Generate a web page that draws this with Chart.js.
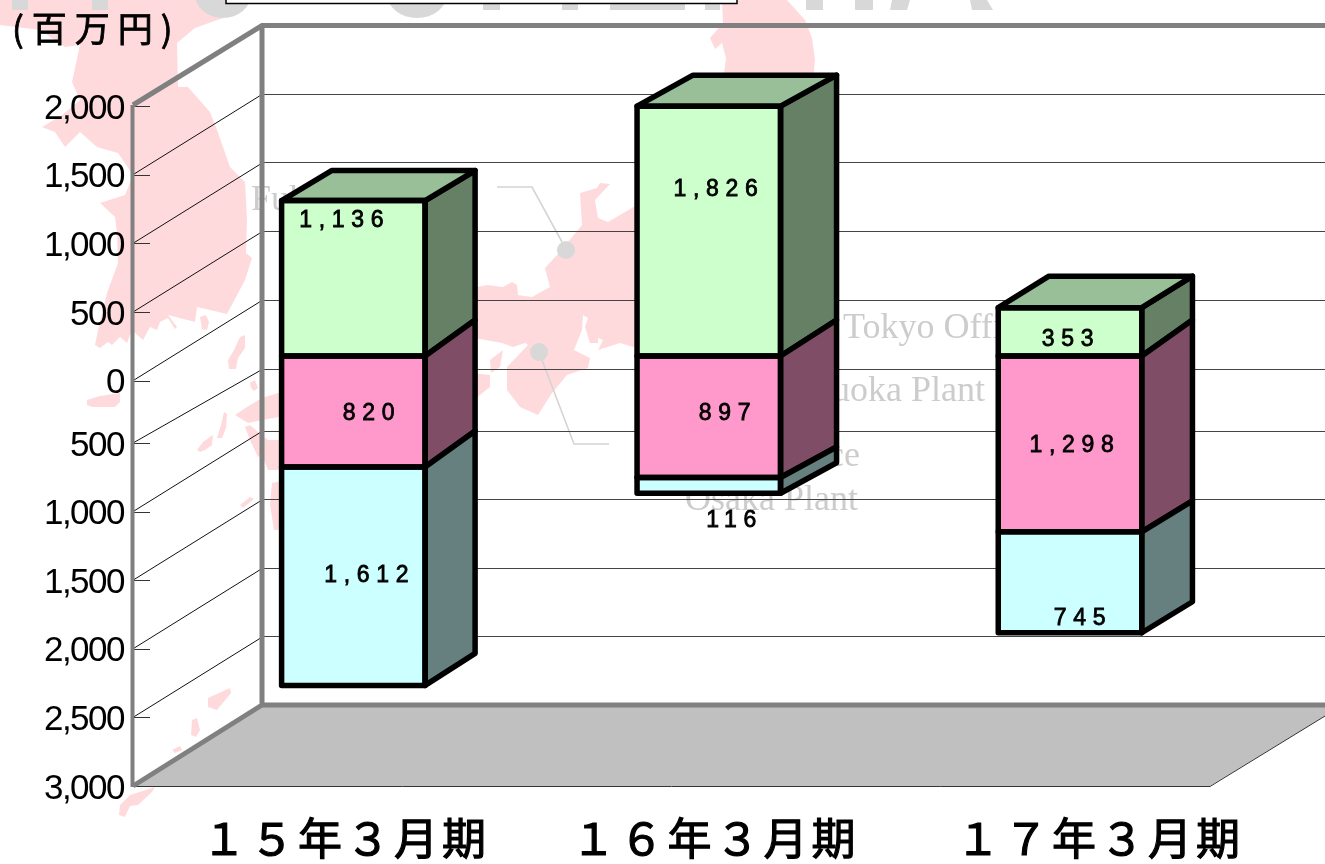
<!DOCTYPE html>
<html lang="ja">
<head>
<meta charset="utf-8">
<title>Chart</title>
<style>
html,body{margin:0;padding:0;background:#fff;overflow:hidden}
#wrap{position:relative;width:1325px;height:864px;overflow:hidden}
#bg,#c{position:absolute;left:0;top:0}
#bg{will-change:transform}
</style>
</head>
<body>
<div id="wrap">
<svg id="bg" width="1325" height="864" viewBox="0 0 1325 864">
  <g fill="#FFDADD">
    <polygon points="0,0 233,0 223,18 195,28 177,43 178,87 188,87 210,112 217,130 230,167 245,182 247,220 246,253 252,258 245,280 227,314 197,307 195,322 168,315 177,327 175,329 168,318 160,322 157,330 150,327 143,340 132,330 127,343 120,337 112,345 108,342 100,348 95,345 98,330 107,293 118,263 117,233 115,217 100,203 125,195 133,175 118,153 97,147 80,132 65,147 55,132 42,127 62,115 80,100 72,82 80,45 65,47 40,30 0,25"/>
    <polygon points="200,317 206,315 209,322 207,330 202,329"/>
    <polygon points="240,337 245,335 245,348 238,358 236,369 229,369 228,360 234,350"/>
    <polygon points="87,400 100,396 120,393 120,402 115,407 92,407 87,405"/>
    <polygon points="250,383 255,380 258,388 254,391 251,388"/>
    <polygon points="197,450 203,442 213,435 212,445 205,450 200,452"/>
    <polygon points="217,438 221,425 224,412 227,414 226,428 222,438"/>
    <polygon points="235,415 247,407 262,398 278,393 285,393 285,416 262,420 248,423"/>
    <polygon points="245,427 250,425 258,432 268,440 285,440 285,470 268,470 262,455 258,457 250,440"/>
    <polygon points="272,483 285,480 285,530 274,530 270,505"/>
    <polygon points="240,505 250,497 254,499 243,508"/>
    <polygon points="208,698 230,688 231,693 217,710 208,707"/>
    <polygon points="192,720 197,718 200,730 196,737 191,735"/>
    <polygon points="172,750 180,746 182,750 175,753"/>
    <polygon points="120,805 130,795 155,787 152,792 138,805 130,806 125,817 119,815"/>
    <polygon points="477,287 487,285 503,287 512,282 517,285 518,295 532,297 550,287 545,268 557,255 582,225 580,193 597,188 600,183 610,184 595,200 598,218 608,222 637,205 724,150 724,73 726,58 722,43 715,49 710,38 723,23 722,0 787,0 805,20 812,38 815,60 813,80 790,300 633,347 620,343 598,350 603,340 598,338 598,343 590,343 585,327 588,318 583,315 582,330 574,350 590,358 588,368 567,375 552,393 538,415 520,407 507,390 507,367 528,345 525,343 513,347 502,343 480,339 470,339 470,287"/>
    <polygon points="503,350 500,367 491,373 490,360"/>
    <polygon points="470,373 490,375 490,387 470,403"/>
  </g>
  <g fill="#D8D8D8">
    <rect x="12" y="-2" width="16" height="12"/>
    <rect x="92" y="-2" width="16" height="12"/>
    <ellipse cx="223" cy="-6" rx="28" ry="24"/>
    <ellipse cx="417" cy="-6" rx="30" ry="24"/>
    <rect x="483" y="-2" width="17" height="12"/>
    <rect x="562" y="-2" width="16" height="12"/>
    <rect x="610" y="-2" width="75" height="12"/>
    <rect x="705" y="-2" width="15" height="12"/>
    <rect x="806" y="-2" width="17" height="12"/>
    <rect x="855" y="-2" width="18" height="12"/>
    <polygon points="892,0 910,0 907,10 890,10"/>
    <polygon points="970,0 987,0 993,10 972,10"/>
  </g>
  <g font-family="'Liberation Serif',serif" font-size="36" fill="#CCCCCC">
    <text x="251" y="210">Fukui Plant</text>
    <text x="843" y="338">Tokyo Office</text>
    <text x="985" y="401" text-anchor="end">Shizuoka Plant</text>
    <text x="860" y="466" text-anchor="end">Head Office</text>
    <text x="858" y="510" text-anchor="end">Osaka Plant</text>
  </g>
  <g fill="none" stroke="#D4D4D4" stroke-width="1.6">
    <polyline points="497,187 532,187 562,242"/>
    <polyline points="542,360 574,444 609,444"/>
  </g>
  <circle cx="566" cy="250" r="9" fill="#D8D8D8"/>
  <circle cx="539" cy="352" r="9" fill="#D8D8D8"/>
  <rect x="226" y="-6" width="511" height="9.5" fill="#fff" stroke="#000" stroke-width="1.5"/>
  <text x="12" y="42" font-family="'Noto Sans CJK JP',sans-serif" font-weight="400" font-size="35" letter-spacing="8" fill="#000" stroke="#000" stroke-width="0.8">(百万円)</text>
</svg>
<canvas id="c" width="1325" height="864"></canvas>
</div>
<script src="https://cdn.jsdelivr.net/npm/chart.js@4/dist/chart.umd.min.js"></script>
<script>
// ---- data ----
const categories = ['１５年３月期', '１６年３月期', '１７年３月期'];
const upperSeries = [1136, 1826, 353];
const middleSeries = [-820, -897, -1298];
const lowerSeries = [-1612, -116, -745];

// ---- styling ----
const upperColor = '#CCFFCC', middleColor = '#FF99CC', lowerColor = '#CCFFFF';
const labelShift = [33.5, 44, 69.5];     // x axis labels are not evenly spaced in the reference
const barNudge = [1.85, -1.7, 0.5];
const barDepthX = [50, 56, 50.7];
// how far each stack edge rises toward the back, per category, top edge first
const barDepthY = [[30, 36, 36, 32], [31, 36, 30.5, 30.5], [31.5, 36, 31, 31]];
const planeDX = 39, planeDY = -22;       // bars stand on a plane behind the front axis
const upperStretch = 1.006, lowerStretch = 0.996;
// label centres, by dataset then category
const labelSpots = {
  upper:  [[341.7, 221], [716, 189.5], [1068, 339.5]],
  middle: [[369, 414], [725, 414], [1072, 446]],
  lower:  [[366.7, 576], [731.7, 520.5], [1080, 619]]
};

const shade = (hex, f) => {
  const n = parseInt(hex.slice(1), 16);
  const c = [(n >> 16) & 255, (n >> 8) & 255, n & 255].map(v => Math.round(v * f));
  return `rgb(${c[0]},${c[1]},${c[2]})`;
};

class SpacedCategoryScale extends Chart.CategoryScale {
  getPixelForValue(value, index) {
    const p = super.getPixelForValue(value, index);
    const i = typeof value === 'number' ? value : this.parse(value);
    return p + (barNudge[i] || 0);
  }
  getPixelForTick(i) {
    const v = this.ticks[i].value;
    return super.getPixelForValue(v) + labelShift[i];
  }
}
SpacedCategoryScale.id = 'spacedCategory';
SpacedCategoryScale.defaults = Chart.CategoryScale.defaults;

class QuirkLinearScale extends Chart.LinearScale {
  // the reference stretches above and below zero slightly differently
  getPixelForValue(v) {
    const zero = super.getPixelForValue(0);
    const d = super.getPixelForValue(v) - zero;
    return zero + d * (v >= 0 ? upperStretch : lowerStretch);
  }
  // and its printed axis has a small step between 0 and -500
  getPixelForTick(i) {
    const v = this.ticks[i].value;
    const fix = v >= 0 ? 2.7 * (1 - v / 2000) : -3 * (1 + (v + 500) / 2500);
    return super.getPixelForValue(v) + fix;
  }
}
QuirkLinearScale.id = 'quirkLinear';
QuirkLinearScale.defaults = Chart.LinearScale.defaults;

Chart.register(SpacedCategoryScale, QuirkLinearScale);

const box3d = {
  id: 'box3d',
  beforeDraw(chart) {
    chart.ctx.letterSpacing = '-1.5px';
  },
  beforeDatasetsDraw(chart) {
    const { ctx, chartArea: a, scales: { y } } = chart;
    ctx.letterSpacing = '0px';
    const backX = a.left + 129, wallRight = chart.width + 20;

    // floor
    ctx.save();
    ctx.fillStyle = '#C0C0C0';
    ctx.beginPath();
    ctx.moveTo(a.left, a.bottom);
    ctx.lineTo(backX, a.bottom - 81);
    ctx.lineTo(a.right + 133, a.bottom - 81);
    ctx.lineTo(a.right, a.bottom);
    ctx.closePath();
    ctx.fill();
    ctx.strokeStyle = '#333';
    ctx.lineWidth = 1;
    ctx.beginPath();
    ctx.moveTo(a.left, a.bottom + 0.5);
    ctx.lineTo(a.right, a.bottom + 0.5);
    ctx.lineTo(a.right + 133, a.bottom - 81);
    ctx.stroke();

    // tick-based wall lines
    y.ticks.forEach((t, i) => {
      const p = y.getPixelForTick(i);
      ctx.strokeStyle = '#333';
      ctx.lineWidth = 1;
      ctx.beginPath();
      ctx.moveTo(a.left, Math.round(p) + 0.5);
      ctx.lineTo(a.left + 17, Math.round(p) + 0.5);
      ctx.stroke();
      if (t.value === y.min || t.value === y.max) return;
      const lift = t.value === -500 ? 74.3 : 81;
      ctx.strokeStyle = '#111';
      ctx.beginPath();
      ctx.moveTo(a.left, p);
      ctx.lineTo(backX - 2, p - lift + 2);
      ctx.stroke();
      ctx.strokeStyle = '#444';
      ctx.beginPath();
      ctx.moveTo(backX, Math.round(p - lift) + 0.5);
      ctx.lineTo(wallRight, Math.round(p - lift) + 0.5);
      ctx.stroke();
    });

    // grey frame
    ctx.strokeStyle = '#808080';
    ctx.lineWidth = 5;
    ctx.lineJoin = 'miter';
    ctx.beginPath();
    ctx.moveTo(a.left, a.top - 1);
    ctx.lineTo(backX, a.top - 80.5);
    ctx.lineTo(wallRight, a.top - 80.5);
    ctx.moveTo(backX, a.top - 80.5);
    ctx.lineTo(backX, a.bottom - 81);
    ctx.lineTo(wallRight, a.bottom - 81);
    ctx.moveTo(backX, a.bottom - 81);
    ctx.lineTo(a.left, a.bottom);
    ctx.stroke();
    ctx.lineWidth = 4;
    ctx.beginPath();
    ctx.moveTo(a.left - 0.5, a.top - 1);
    ctx.lineTo(a.left - 0.5, a.bottom + 1);
    ctx.stroke();
    ctx.restore();

    ctx.save();
    ctx.translate(planeDX, planeDY);
  },
  afterDatasetsDraw(chart) {
    const { ctx } = chart;
    const metas = chart.data.datasets.map((d, i) => chart.getDatasetMeta(i));
    const poly = (pts, fill) => {
      ctx.beginPath();
      pts.forEach((p, i) => i ? ctx.lineTo(p[0], p[1]) : ctx.moveTo(p[0], p[1]));
      ctx.closePath();
      ctx.fillStyle = fill;
      ctx.fill();
      ctx.stroke();
    };
    ctx.lineWidth = 5.5;
    ctx.lineJoin = 'round';
    ctx.strokeStyle = '#000';

    metas.forEach((meta, di) => {
      const color = chart.data.datasets[di].backgroundColor;
      meta.data.forEach((el, ci) => {
        const l = el.x - el.width / 2, r = el.x + el.width / 2;
        const t = Math.min(el.y, el.base), b = Math.max(el.y, el.base);
        const dx = barDepthX[ci];
        const liftT = barDepthY[ci][di], liftB = barDepthY[ci][di + 1];
        poly([[r, t], [r + dx, t - liftT], [r + dx, b - liftB], [r, b]], shade(color, 0.5));
        if (chart.data.datasets[di].isTop) {
          poly([[l, t], [l + dx, t - liftT], [r + dx, t - liftT], [r, t]], shade(color, 0.75));
        }
      });
    });
    metas.forEach(meta => meta.data.forEach(el => {
      const l = el.x - el.width / 2, r = el.x + el.width / 2;
      const t = Math.min(el.y, el.base), b = Math.max(el.y, el.base);
      ctx.strokeRect(l, t, r - l, b - t);
    }));
    ctx.restore();

    // value labels
    ctx.save();
    ctx.font = '23px "Liberation Sans", Arial, sans-serif';
    ctx.letterSpacing = '6.7px';
    ctx.textAlign = 'center';
    ctx.textBaseline = 'middle';
    ctx.fillStyle = '#000';
    ctx.strokeStyle = '#000';
    ctx.lineWidth = 0.8;
    chart.data.datasets.forEach(ds => {
      ds.data.forEach((v, ci) => {
        const s = Math.abs(v).toLocaleString('en-US');
        const [x, y] = labelSpots[ds.spot][ci];
        ctx.fillText(s, x + 3, y);
        ctx.strokeText(s, x + 3, y);
      });
    });
    ctx.restore();
    ctx.letterSpacing = '4px';
  },
  afterDraw(chart) {
    chart.ctx.letterSpacing = '0px';
  }
};

new Chart(document.getElementById('c'), {
  type: 'bar',
  data: {
    labels: categories,
    datasets: [
      { label: 'upper', spot: 'upper', isTop: true, data: upperSeries, backgroundColor: upperColor, borderWidth: 0, clip: false },
      { label: 'middle', spot: 'middle', data: middleSeries, backgroundColor: middleColor, borderWidth: 0, clip: false },
      { label: 'lower', spot: 'lower', data: lowerSeries, backgroundColor: lowerColor, borderWidth: 0, clip: false }
    ]
  },
  options: {
    responsive: false,
    animation: false,
    layout: { padding: { top: 106, right: 115, left: 0, bottom: 0 } },
    barThickness: 143.5,
    plugins: { legend: { display: false }, tooltip: { enabled: false } },
    events: [],
    scales: {
      x: {
        type: 'spacedCategory',
        stacked: true,
        grid: { display: false, drawTicks: false },
        border: { display: false },
        ticks: {
          z: 1,
          autoSkip: false,
          maxRotation: 0,
          minRotation: 0,
          padding: 26,
          color: '#000',
          textStrokeColor: '#000',
          textStrokeWidth: 1.2,
          font: { family: '"Noto Sans CJK JP", sans-serif', size: 44, weight: '400' }
        },
        afterFit(s) { s.height = 78; }
      },
      y: {
        type: 'quirkLinear',
        stacked: true,
        min: -3000,
        max: 2000,
        grid: { display: false, drawTicks: false },
        border: { display: false },
        ticks: {
          stepSize: 500,
          padding: 9,
          labelOffset: 3,
          color: '#000',
          font: { family: '"Liberation Sans", Arial, sans-serif', size: 35 },
          callback: v => Math.abs(v).toLocaleString('en-US')
        },
        afterFit(s) { s.width = 133; }
      }
    }
  },
  plugins: [box3d]
});
</script>
</body>
</html>
